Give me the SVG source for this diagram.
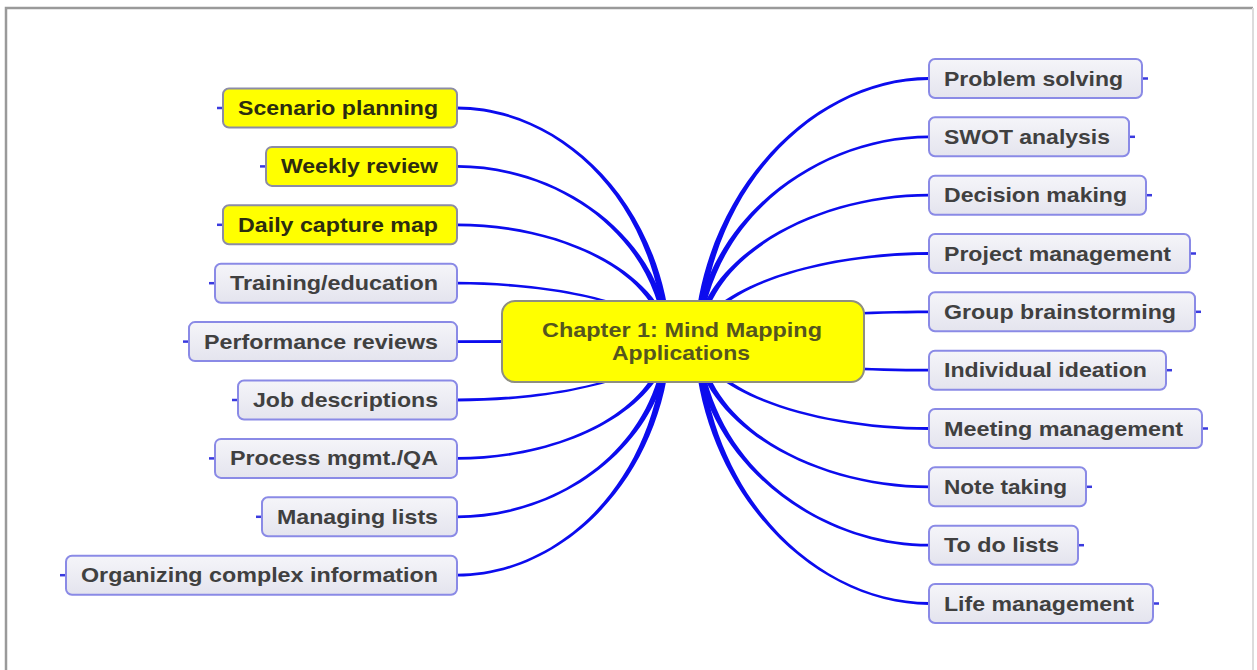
<svg xmlns="http://www.w3.org/2000/svg" width="1257" height="670" viewBox="0 0 1257 670">
<defs>
<linearGradient id="gfill" x1="0" y1="0" x2="0" y2="1">
<stop offset="0" stop-color="#f5f5f9"/>
<stop offset="1" stop-color="#e4e4ee"/>
</linearGradient>
<style>
.bg{fill:#ffffff}
.frame{fill:none;stroke:#9a9a9a;stroke-width:2.5}
.frame2{fill:none;stroke:#dcdcdc;stroke-width:2}
.conn{fill:#0c0cee;stroke:none}
.stub{stroke:#3a3adf;stroke-width:2.5;fill:none}
.gbox{fill:url(#gfill);stroke:#8a8ae6;stroke-width:2}
.ybox{fill:#ffff00;stroke:#8c8ca6;stroke-width:2}
.cbox{fill:#ffff00;stroke:#8f8f80;stroke-width:2}
.t{font-family:"Liberation Sans",Arial,sans-serif;font-weight:bold;font-size:21px;fill:#404040}
.yt{fill:#2c2c10}
.ct{fill:#55551f;text-anchor:middle}
</style>
</defs>
<rect class="bg" x="0" y="0" width="1257" height="670"/>
<path class="frame" d="M6,672 V8 H1253"/>
<path class="frame2" d="M1253,8 V672"/>

<g id="connectors">
<path class="conn" d="M457,106.6 C560,106.6 663.3,201.2 671.3,341 L664.7,341 C656.7,201.2 560,109.4 457,109.4Z"/>
<path class="conn" d="M457,165 C560,165 663.3,236.2 671.3,341 L664.7,341 C656.7,236.2 560,167.8 457,167.8Z"/>
<path class="conn" d="M457,223.4 C560,223.4 663.3,271.3 671.3,341 L664.7,341 C656.7,271.3 560,226.2 457,226.2Z"/>
<path class="conn" d="M457,281.8 C560,281.8 663.3,306.3 671.3,341 L664.7,341 C656.7,306.3 560,284.6 457,284.6Z"/>
<path class="conn" d="M457,340.2 L668,339.6 L668,343.4 L457,343Z"/>
<path class="conn" d="M457,398.6 C560,398.6 656.7,376.4 664.7,341 L671.3,341 C663.3,376.4 560,401.4 457,401.4Z"/>
<path class="conn" d="M457,457 C560,457 656.7,411.4 664.7,341 L671.3,341 C663.3,411.4 560,459.8 457,459.8Z"/>
<path class="conn" d="M457,515.4 C560,515.4 656.7,446.5 664.7,341 L671.3,341 C663.3,446.5 560,518.2 457,518.2Z"/>
<path class="conn" d="M457,573.8 C560,573.8 656.7,481.5 664.7,341 L671.3,341 C663.3,481.5 560,576.6 457,576.6Z"/>

<path class="conn" d="M929,79.9 C819,79.9 708.3,183.5 700.3,341 L693.7,341 C701.7,183.5 819,77.1 929,77.1Z"/>
<path class="conn" d="M929,138.2 C819,138.2 708.3,218.5 700.3,341 L693.7,341 C701.7,218.5 819,135.4 929,135.4Z"/>
<path class="conn" d="M929,196.6 C819,196.6 708.3,253.5 700.3,341 L693.7,341 C701.7,253.5 819,193.8 929,193.8Z"/>
<path class="conn" d="M929,254.9 C819,254.9 708.3,288.5 700.3,341 L693.7,341 C701.7,288.5 819,252.1 929,252.1Z"/>
<path class="conn" d="M929,313.2 C819,313.2 708.3,323.5 700.3,341 L693.7,341 C701.7,323.5 819,310.4 929,310.4Z"/>
<path class="conn" d="M929,371.6 C819,371.6 701.7,358.5 693.7,341 L700.3,341 C708.3,358.5 819,368.8 929,368.8Z"/>
<path class="conn" d="M929,429.9 C819,429.9 701.7,393.5 693.7,341 L700.3,341 C708.3,393.5 819,427.1 929,427.1Z"/>
<path class="conn" d="M929,488.2 C819,488.2 701.7,428.5 693.7,341 L700.3,341 C708.3,428.5 819,485.4 929,485.4Z"/>
<path class="conn" d="M929,546.6 C819,546.6 701.7,463.5 693.7,341 L700.3,341 C708.3,463.5 819,543.8 929,543.8Z"/>
<path class="conn" d="M929,604.9 C819,604.9 701.7,498.5 693.7,341 L700.3,341 C708.3,498.5 819,602.1 929,602.1Z"/>
</g>

<g id="center">
<rect class="cbox" x="502" y="301" width="362" height="81" rx="13"/>
<text class="t ct" x="682" y="337" textLength="280" lengthAdjust="spacingAndGlyphs">Chapter 1: Mind Mapping</text>
<text class="t ct" x="681" y="360" textLength="138" lengthAdjust="spacingAndGlyphs">Applications</text>
</g>

<g id="node-scenario-planning">
<path class="stub" d="M217,108 H223"/>
<rect class="ybox" x="223" y="88.5" width="234" height="39" rx="6"/>
<text class="t yt" x="238" y="115" textLength="200" lengthAdjust="spacingAndGlyphs">Scenario planning</text>
</g>
<g id="node-weekly-review">
<path class="stub" d="M260,166.4 H266"/>
<rect class="ybox" x="266" y="146.9" width="191" height="39" rx="6"/>
<text class="t yt" x="281" y="173.4" textLength="157" lengthAdjust="spacingAndGlyphs">Weekly review</text>
</g>
<g id="node-daily-capture-map">
<path class="stub" d="M217,224.8 H223"/>
<rect class="ybox" x="223" y="205.3" width="234" height="39" rx="6"/>
<text class="t yt" x="238" y="231.8" textLength="200" lengthAdjust="spacingAndGlyphs">Daily capture map</text>
</g>
<g id="node-training-education">
<path class="stub" d="M209,283.2 H215"/>
<rect class="gbox" x="215" y="263.7" width="242" height="39" rx="6"/>
<text class="t" x="230" y="290.2" textLength="208" lengthAdjust="spacingAndGlyphs">Training/education</text>
</g>
<g id="node-performance-reviews">
<path class="stub" d="M183,341.6 H189"/>
<rect class="gbox" x="189" y="322.1" width="268" height="39" rx="6"/>
<text class="t" x="204" y="348.6" textLength="234" lengthAdjust="spacingAndGlyphs">Performance reviews</text>
</g>
<g id="node-job-descriptions">
<path class="stub" d="M232,400 H238"/>
<rect class="gbox" x="238" y="380.5" width="219" height="39" rx="6"/>
<text class="t" x="253" y="407" textLength="185" lengthAdjust="spacingAndGlyphs">Job descriptions</text>
</g>
<g id="node-process-mgmt">
<path class="stub" d="M209,458.4 H215"/>
<rect class="gbox" x="215" y="438.9" width="242" height="39" rx="6"/>
<text class="t" x="230" y="465.4" textLength="208" lengthAdjust="spacingAndGlyphs">Process mgmt./QA</text>
</g>
<g id="node-managing-lists">
<path class="stub" d="M256,516.8 H262"/>
<rect class="gbox" x="262" y="497.3" width="195" height="39" rx="6"/>
<text class="t" x="277" y="523.8" textLength="161" lengthAdjust="spacingAndGlyphs">Managing lists</text>
</g>
<g id="node-organizing-complex-information">
<path class="stub" d="M60,575.2 H66"/>
<rect class="gbox" x="66" y="555.7" width="391" height="39" rx="6"/>
<text class="t" x="81" y="582.2" textLength="357" lengthAdjust="spacingAndGlyphs">Organizing complex information</text>
</g>

<g id="node-problem-solving">
<path class="stub" d="M1142,78.5 H1148"/>
<rect class="gbox" x="929" y="59" width="213" height="39" rx="6"/>
<text class="t" x="944" y="85.5" textLength="179" lengthAdjust="spacingAndGlyphs">Problem solving</text>
</g>
<g id="node-swot-analysis">
<path class="stub" d="M1129,136.8 H1135"/>
<rect class="gbox" x="929" y="117.3" width="200" height="39" rx="6"/>
<text class="t" x="944" y="143.8" textLength="166" lengthAdjust="spacingAndGlyphs">SWOT analysis</text>
</g>
<g id="node-decision-making">
<path class="stub" d="M1146,195.2 H1152"/>
<rect class="gbox" x="929" y="175.7" width="217" height="39" rx="6"/>
<text class="t" x="944" y="202.2" textLength="183" lengthAdjust="spacingAndGlyphs">Decision making</text>
</g>
<g id="node-project-management">
<path class="stub" d="M1190,253.5 H1196"/>
<rect class="gbox" x="929" y="234" width="261" height="39" rx="6"/>
<text class="t" x="944" y="260.5" textLength="227" lengthAdjust="spacingAndGlyphs">Project management</text>
</g>
<g id="node-group-brainstorming">
<path class="stub" d="M1195,311.8 H1201"/>
<rect class="gbox" x="929" y="292.3" width="266" height="39" rx="6"/>
<text class="t" x="944" y="318.8" textLength="232" lengthAdjust="spacingAndGlyphs">Group brainstorming</text>
</g>
<g id="node-individual-ideation">
<path class="stub" d="M1166,370.2 H1172"/>
<rect class="gbox" x="929" y="350.7" width="237" height="39" rx="6"/>
<text class="t" x="944" y="377.2" textLength="203" lengthAdjust="spacingAndGlyphs">Individual ideation</text>
</g>
<g id="node-meeting-management">
<path class="stub" d="M1202,428.5 H1208"/>
<rect class="gbox" x="929" y="409" width="273" height="39" rx="6"/>
<text class="t" x="944" y="435.5" textLength="239" lengthAdjust="spacingAndGlyphs">Meeting management</text>
</g>
<g id="node-note-taking">
<path class="stub" d="M1086,486.8 H1092"/>
<rect class="gbox" x="929" y="467.3" width="157" height="39" rx="6"/>
<text class="t" x="944" y="493.8" textLength="123" lengthAdjust="spacingAndGlyphs">Note taking</text>
</g>
<g id="node-to-do-lists">
<path class="stub" d="M1078,545.2 H1084"/>
<rect class="gbox" x="929" y="525.7" width="149" height="39" rx="6"/>
<text class="t" x="944" y="552.2" textLength="115" lengthAdjust="spacingAndGlyphs">To do lists</text>
</g>
<g id="node-life-management">
<path class="stub" d="M1153,603.5 H1159"/>
<rect class="gbox" x="929" y="584" width="224" height="39" rx="6"/>
<text class="t" x="944" y="610.5" textLength="190" lengthAdjust="spacingAndGlyphs">Life management</text>
</g>
</svg>
